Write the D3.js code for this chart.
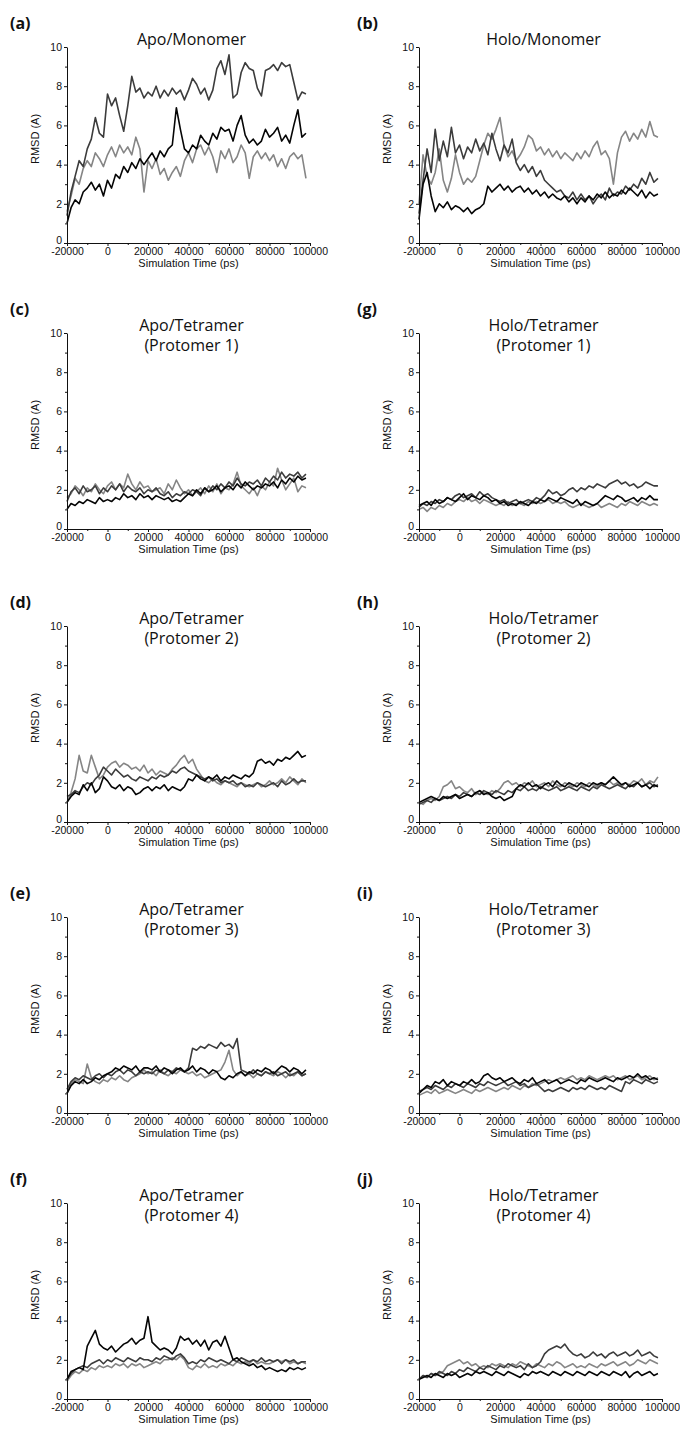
<!DOCTYPE html>
<html>
<head>
<meta charset="utf-8">
<script src="https://d3js.org/d3.v7.min.js"></script>
<style>
  body { margin: 0; background: #fff; }
</style>
</head>
<body>
<script>
var width = 680, height = 1432;

// sample times (ps)
var times = [-20000,-18000,-16000,-14000,-12000,-10000,-8000,-6000,-4000,-2000,
  0,2000,4000,6000,8000,10000,12000,14000,16000,18000,
  20000,22000,24000,26000,28000,30000,32000,34000,36000,38000,
  40000,42000,44000,46000,48000,50000,52000,54000,56000,58000,
  60000,62000,64000,66000,68000,70000,72000,74000,76000,78000,
  80000,82000,84000,86000,88000,90000,92000,94000,96000,98000];

var xTicks = [-20000, 0, 20000, 40000, 60000, 80000, 100000];
var xMinor = [-10000, 10000, 30000, 50000, 70000, 90000];
var yTicks = [0, 2, 4, 6, 8, 10];
var yMinor = [1, 3, 5, 7, 9];

// RMSD values: _k black, _d dark grey, _l light grey

// (a) Apo/Monomer
var apoMono_k = [1.0,1.8,2.2,2.0,2.6,2.8,3.1,2.7,3.0,2.4, 3.2,2.8,3.5,3.3,3.9,3.6,4.1,3.8,4.3,4.0,
  4.3,4.6,4.2,4.7,4.4,4.8,5.0,6.9,5.8,4.8, 4.6,5.0,4.8,5.5,5.2,5.0,5.6,5.3,5.9,5.7,
  5.8,5.2,6.0,6.5,5.5,5.1,5.3,5.0,5.2,5.8, 5.4,5.6,5.9,5.2,5.5,5.1,6.0,6.8,5.4,5.6];
var apoMono_d = [1.4,2.6,3.4,4.2,3.9,4.8,5.3,6.4,5.6,5.4, 7.6,7.0,7.4,6.5,5.7,7.0,8.5,7.7,7.9,7.4,
  7.7,7.5,8.0,7.4,7.8,7.5,7.9,7.6,7.8,7.3, 7.8,8.4,8.1,7.6,7.9,7.3,7.8,8.9,9.3,8.6,
  9.6,7.4,7.6,8.7,9.2,8.9,8.8,7.9,7.5,8.8, 8.9,9.1,8.8,9.2,9.0,9.1,8.2,7.3,7.7,7.6];
var apoMono_l = [1.6,2.4,3.3,3.0,3.8,4.2,3.9,4.6,4.3,3.9, 4.5,4.9,4.4,5.0,4.6,4.9,4.5,5.4,4.8,2.6,
  4.2,3.8,4.3,3.5,3.8,3.2,3.6,3.9,3.4,4.2, 4.6,4.1,4.8,5.0,4.5,4.9,4.4,3.6,4.7,4.3,
  4.8,4.1,4.4,5.0,4.6,3.3,4.4,4.7,4.3,4.6, 4.2,4.5,3.9,4.3,3.8,4.4,4.6,4.3,4.5,3.3];

// (b) Holo/Monomer
var holoMono_k = [1.2,3.0,3.6,2.4,1.6,2.0,1.8,2.1,1.7,1.9, 1.8,1.6,1.8,1.5,1.7,1.8,2.0,2.9,2.6,2.8,
  3.0,2.7,2.9,2.6,2.8,2.9,2.6,2.8,2.5,2.7, 2.4,2.6,2.3,2.5,2.3,2.2,2.4,2.1,2.3,2.0,
  2.3,2.1,2.4,2.2,2.5,2.3,2.6,2.3,2.5,2.4, 2.7,2.5,2.8,2.6,2.4,2.7,2.3,2.6,2.4,2.5];
var holoMono_d = [1.5,3.2,4.8,3.6,5.8,4.2,5.2,4.4,5.9,4.6, 5.0,4.3,4.9,4.6,5.3,4.7,5.1,4.5,5.6,4.8,
  4.2,5.0,4.6,5.3,4.1,3.7,4.0,3.6,3.9,3.4, 3.7,3.2,3.0,2.8,2.6,2.7,2.4,2.3,2.6,2.2,
  2.5,2.2,2.4,2.0,2.3,2.5,2.2,2.8,2.4,2.6, 2.5,2.9,2.7,3.0,2.8,3.3,3.0,3.6,3.1,3.3];
var holoMono_l = [2.0,4.5,3.4,3.0,3.6,4.8,3.2,2.6,3.3,4.5, 3.6,3.0,3.3,3.1,3.4,4.2,5.0,5.6,5.3,5.8,
  6.4,5.0,4.4,4.7,4.2,4.5,4.9,5.5,5.3,4.7, 4.9,4.5,4.8,4.4,4.7,4.3,4.6,4.4,4.2,4.6,
  4.3,4.7,4.4,4.9,5.2,4.5,4.7,4.3,3.0,4.6, 5.4,5.7,5.2,5.6,5.3,5.8,5.4,6.2,5.5,5.4];

// (c) Apo/Tetramer protomer 1
var apoP1_k = [1.0,1.3,1.2,1.4,1.3,1.5,1.4,1.3,1.6,1.4, 1.5,1.4,1.6,1.5,1.8,1.6,1.7,1.5,1.8,1.6,
  1.7,1.5,1.7,1.6,1.5,1.6,1.4,1.5,1.4,1.6, 1.8,1.7,2.0,1.8,2.1,1.9,2.0,2.2,1.9,2.1,
  2.2,2.0,2.3,2.1,2.4,2.2,2.0,2.2,2.1,2.3, 2.2,2.4,2.1,2.5,2.3,2.6,2.4,2.7,2.5,2.6];
var apoP1_d = [1.4,1.9,2.1,1.8,2.2,1.9,2.0,2.2,1.8,2.1, 1.9,2.2,2.0,2.3,1.9,2.2,2.0,1.9,2.1,1.8,
  2.0,1.9,2.1,1.8,1.7,1.9,1.6,1.8,1.7,1.9, 1.8,2.0,1.9,1.7,2.1,1.9,2.2,2.0,2.3,2.1,
  2.4,2.2,2.6,2.3,2.2,2.4,2.3,2.5,2.2,2.6, 2.4,2.7,2.5,2.9,2.6,2.8,2.7,2.9,2.6,2.8];
var apoP1_l = [1.6,1.8,2.2,2.0,1.7,2.1,1.9,2.3,2.0,1.8, 2.2,2.4,2.0,2.3,2.1,2.8,2.3,2.0,2.4,2.1,
  2.2,1.9,2.0,2.1,1.8,2.3,2.0,2.5,2.1,1.8, 2.0,1.7,1.9,2.1,1.8,2.2,1.9,2.3,1.8,2.1,
  2.0,2.3,2.9,2.2,2.0,1.8,2.1,1.7,2.2,2.0, 2.4,2.2,3.1,2.5,2.0,2.3,2.6,1.9,2.2,2.1];

// (g) Holo/Tetramer protomer 1
var holoP1_k = [1.2,1.3,1.4,1.2,1.5,1.3,1.4,1.6,1.5,1.4, 1.6,1.8,1.5,1.7,1.6,1.5,1.7,1.6,1.4,1.5,
  1.3,1.4,1.2,1.3,1.2,1.4,1.3,1.2,1.4,1.3, 1.5,1.4,1.6,1.5,1.4,1.6,1.5,1.4,1.3,1.5,
  1.2,1.4,1.3,1.2,1.3,1.5,1.7,1.6,1.5,1.7, 1.6,1.4,1.5,1.6,1.4,1.6,1.5,1.7,1.5,1.5];
var holoP1_d = [1.1,1.3,1.2,1.4,1.3,1.5,1.4,1.6,1.5,1.7, 1.8,1.6,1.7,1.8,1.6,1.9,1.7,1.8,1.6,1.5,
  1.4,1.5,1.3,1.4,1.5,1.3,1.4,1.5,1.4,1.6, 1.5,1.7,2.0,1.8,1.9,1.7,1.8,2.0,2.1,1.9,
  2.1,2.0,2.2,2.1,2.3,2.2,2.1,2.3,2.4,2.5, 2.3,2.4,2.2,2.3,2.1,2.2,2.4,2.3,2.2,2.2];
var holoP1_l = [1.0,1.1,0.9,1.1,1.0,1.2,1.1,1.3,1.2,1.4, 1.5,1.4,1.6,1.4,1.5,1.3,1.5,1.4,1.3,1.2,
  1.3,1.2,1.4,1.2,1.3,1.3,1.2,1.4,1.3,1.4, 1.3,1.4,1.5,1.3,1.4,1.3,1.4,1.2,1.1,1.2,
  1.3,1.2,1.1,1.2,1.3,1.1,1.2,1.3,1.2,1.1, 1.3,1.2,1.4,1.3,1.2,1.4,1.3,1.2,1.3,1.2];

// (d) Apo/Tetramer protomer 2
var apoP2_k = [1.0,1.3,1.5,1.4,1.9,1.6,2.0,1.5,1.7,2.3, 2.1,1.8,1.7,1.9,1.6,1.8,1.7,1.4,1.5,1.7,
  1.8,1.6,1.8,1.7,1.9,1.6,1.8,1.7,1.6,1.8, 2.2,2.1,2.4,2.2,2.1,2.3,2.2,2.4,2.1,2.3,
  2.2,2.4,2.3,2.2,2.4,2.3,2.5,3.1,3.2,3.0, 3.1,2.9,3.2,3.1,3.3,3.2,3.4,3.6,3.3,3.4];
var apoP2_d = [1.3,1.4,1.6,1.5,1.8,2.0,1.9,2.2,2.4,2.8, 2.6,2.4,2.7,2.5,2.3,2.4,2.2,2.1,2.3,2.2,
  2.1,2.3,2.2,2.4,2.3,2.4,2.6,2.5,2.7,2.8, 2.6,2.5,2.4,2.3,2.2,2.3,2.1,2.2,2.0,2.1,
  2.0,2.1,1.9,2.0,1.8,1.9,1.8,2.0,1.9,1.8, 1.9,2.0,1.8,2.1,1.9,2.0,2.2,2.0,2.1,2.1];
var apoP2_l = [1.0,1.5,2.2,3.4,2.6,2.5,3.4,2.8,2.2,2.4, 2.8,3.0,3.1,2.8,3.0,2.9,2.7,2.8,2.6,2.9,
  2.5,2.7,2.4,2.6,2.5,2.4,2.7,2.9,3.2,3.4, 3.0,3.2,2.7,2.4,2.1,2.0,2.2,2.0,1.9,2.1,
  2.0,1.9,1.8,2.0,1.9,1.8,1.9,2.0,1.8,1.9, 2.1,1.9,2.0,2.2,2.0,2.3,2.1,1.9,2.2,2.0];

// (h) Holo/Tetramer protomer 2
var holoP2_k = [1.0,1.1,1.2,1.3,1.2,1.1,1.3,1.2,1.3,1.4, 1.2,1.3,1.4,1.3,1.5,1.6,1.4,1.5,1.3,1.2,
  1.3,1.1,1.2,1.3,1.7,1.9,1.8,2.0,1.8,1.9, 1.7,1.9,2.0,1.8,2.1,1.9,1.8,2.0,1.9,1.8,
  2.0,1.9,1.8,2.0,1.9,2.0,1.9,2.1,2.3,2.1, 1.9,2.0,1.8,1.9,2.0,1.8,1.9,1.7,1.9,1.8];
var holoP2_d = [0.9,1.0,1.1,1.0,1.2,1.1,1.2,1.3,1.2,1.4, 1.3,1.5,1.4,1.3,1.5,1.4,1.6,1.5,1.4,1.6,
  1.5,1.4,1.6,1.5,1.7,1.6,1.8,1.6,1.7,1.6, 1.8,1.7,1.6,1.7,1.8,1.6,1.7,1.8,1.7,1.6,
  1.8,1.7,1.6,1.8,1.7,1.9,1.8,1.7,1.8,1.9, 1.8,1.7,1.9,1.8,2.0,1.8,1.9,2.0,1.8,1.9];
var holoP2_l = [1.0,0.9,1.1,1.2,1.1,1.3,1.8,1.9,2.1,1.7, 1.8,1.6,1.5,1.7,1.4,1.6,1.5,1.4,1.6,1.5,
  1.7,2.0,2.1,1.9,2.0,1.8,2.0,1.9,2.1,1.8, 1.9,2.0,1.8,2.1,1.9,1.8,2.0,1.9,1.8,2.0,
  1.9,1.8,2.0,1.9,1.8,2.0,1.9,2.1,1.9,2.0, 1.8,2.0,1.9,2.1,2.0,2.2,1.9,2.1,2.0,2.3];

// (e) Apo/Tetramer protomer 3
var apoP3_k = [1.0,1.4,1.6,1.5,1.7,1.5,1.6,1.8,1.7,1.9, 2.0,2.1,2.3,2.2,2.4,2.3,2.2,2.4,2.1,2.3,
  2.3,2.2,2.4,2.1,2.3,2.2,2.0,2.2,2.3,2.1, 2.2,2.4,2.1,2.3,2.2,2.0,2.2,2.1,1.8,1.7,
  1.9,1.8,2.0,2.1,1.9,2.1,2.0,2.2,2.1,2.3, 2.2,2.0,2.2,2.4,2.3,2.1,2.3,2.2,2.0,2.2];
var apoP3_d = [1.2,1.6,1.8,1.7,1.9,1.8,1.7,1.9,2.0,1.8, 2.0,1.9,2.1,2.2,2.0,2.2,2.1,1.9,2.1,2.0,
  2.1,2.0,2.2,2.1,2.0,2.2,2.1,2.3,2.2,2.1, 2.3,3.3,3.2,3.4,3.3,3.5,3.4,3.3,3.6,3.4,
  3.5,3.3,3.8,2.2,2.1,2.0,2.2,2.0,1.9,2.1, 2.0,2.1,1.9,2.0,2.1,1.9,2.0,2.1,1.9,2.0];
var apoP3_l = [1.0,1.5,1.7,1.6,1.5,2.5,1.8,1.6,1.5,1.7, 1.6,1.8,1.7,1.9,1.7,1.6,1.8,1.9,2.0,2.2,
  2.0,2.1,1.9,2.2,2.0,1.9,2.1,2.0,2.2,2.1, 2.0,2.1,1.9,2.0,1.8,1.9,2.0,2.1,2.2,2.6,
  3.2,2.2,1.9,2.1,1.9,2.0,1.8,2.0,1.9,2.1, 2.0,1.9,2.1,2.0,1.8,2.0,1.9,2.1,1.9,2.0];

// (i) Holo/Tetramer protomer 3
var holoP3_k = [1.0,1.2,1.4,1.3,1.6,1.5,1.7,1.4,1.6,1.5, 1.4,1.6,1.5,1.7,1.5,1.6,1.9,2.0,1.8,1.7,
  1.8,1.6,1.7,1.8,1.6,1.5,1.7,1.6,1.8,1.5, 1.6,1.7,1.5,1.6,1.7,1.5,1.6,1.7,1.6,1.5,
  1.7,1.6,1.8,1.7,1.6,1.7,1.8,1.7,1.6,1.8, 1.7,1.8,1.9,1.8,2.0,1.8,1.9,1.7,1.8,1.7];
var holoP3_d = [1.1,1.2,1.3,1.2,1.4,1.3,1.2,1.4,1.3,1.5, 1.4,1.3,1.5,1.4,1.3,1.5,1.4,1.6,1.5,1.4,
  1.5,1.6,1.4,1.5,1.6,1.4,1.5,1.3,1.4,1.5, 1.3,1.1,1.2,1.1,1.2,1.3,1.2,1.1,1.3,1.2,
  1.3,1.2,1.4,1.3,1.2,1.3,1.2,1.4,1.3,1.2, 1.1,1.6,1.5,1.7,1.6,1.5,1.7,1.6,1.5,1.6];
var holoP3_l = [0.9,1.0,1.1,1.0,1.2,1.0,1.1,1.2,1.1,1.0, 1.1,1.2,1.1,1.0,1.2,1.1,1.2,1.3,1.2,1.1,
  1.2,1.3,1.2,1.4,1.3,1.2,1.4,1.3,1.5,1.4, 1.5,1.6,1.7,1.6,1.7,1.8,1.7,1.8,1.9,1.7,
  1.8,1.7,1.9,1.8,1.7,1.8,1.9,1.8,1.9,1.7, 1.8,1.9,1.7,1.8,1.9,1.7,1.8,1.9,1.7,1.8];

// (f) Apo/Tetramer protomer 4
var apoP4_k = [1.0,1.4,1.5,1.6,1.5,2.7,3.1,3.5,2.8,2.6, 2.5,2.7,2.4,2.6,2.8,2.9,3.1,2.8,3.0,3.1,
  4.2,2.9,2.7,2.5,2.6,2.5,2.3,2.6,3.2,3.0, 3.1,2.8,3.0,2.7,3.0,2.5,2.9,3.0,2.7,3.2,
  2.6,2.0,2.1,1.9,1.8,1.7,1.8,1.6,1.7,1.5, 1.6,1.5,1.4,1.5,1.4,1.6,1.5,1.6,1.5,1.6];
var apoP4_d = [1.0,1.3,1.5,1.6,1.7,1.6,1.8,1.9,2.0,1.8, 2.0,1.9,2.1,2.0,1.9,2.1,2.0,1.9,2.1,2.0,
  2.0,1.9,2.1,2.0,2.2,2.1,2.0,2.2,2.3,2.1, 1.8,1.9,1.8,2.0,1.9,2.1,2.0,1.9,2.0,1.9,
  1.8,2.0,1.9,2.1,2.0,1.9,2.0,1.9,2.1,1.9, 2.0,1.9,2.0,1.8,2.0,1.9,2.0,1.8,1.9,1.9];
var apoP4_l = [0.9,1.2,1.4,1.3,1.5,1.4,1.6,1.5,1.7,1.6, 1.7,1.6,1.8,1.7,1.8,1.6,1.8,1.7,1.8,1.6,
  1.7,1.8,1.9,1.8,2.0,2.0,2.1,2.0,2.2,2.0, 1.6,1.5,1.7,1.6,1.8,1.6,1.7,1.6,1.8,1.7,
  1.8,1.7,1.9,1.8,1.9,1.8,2.0,1.8,1.9,1.8, 1.8,1.9,2.0,1.9,2.0,1.8,1.9,1.8,1.9,1.8];

// (j) Holo/Tetramer protomer 4
var holoP4_k = [1.0,1.1,1.2,1.1,1.3,1.2,1.1,1.3,1.2,1.3, 1.1,1.2,1.3,1.2,1.4,1.3,1.4,1.3,1.2,1.4,
  1.3,1.2,1.4,1.3,1.2,1.1,1.3,1.2,1.4,1.3, 1.4,1.3,1.2,1.4,1.3,1.2,1.4,1.3,1.2,1.4,
  1.3,1.2,1.4,1.3,1.2,1.4,1.3,1.2,1.4,1.3, 1.2,1.4,1.1,1.3,1.4,1.2,1.3,1.4,1.2,1.3];
var holoP4_d = [1.0,1.2,1.1,1.3,1.2,1.4,1.3,1.2,1.4,1.3, 1.5,1.4,1.6,1.5,1.4,1.6,1.5,1.7,1.6,1.5,
  1.7,1.6,1.8,1.7,1.6,1.7,1.5,1.8,1.6,1.7, 1.9,2.3,2.5,2.6,2.7,2.6,2.8,2.5,2.3,2.2,
  2.3,2.1,2.2,2.4,2.2,2.3,2.1,2.3,2.4,2.2, 2.3,2.4,2.2,2.3,2.5,2.2,2.3,2.4,2.2,2.1];
var holoP4_l = [1.0,1.2,1.1,1.3,1.2,1.3,1.4,1.7,1.8,1.9, 2.0,1.8,1.9,1.7,1.8,1.6,1.7,1.6,1.8,1.7,
  1.8,1.7,1.6,1.8,1.7,1.9,1.8,1.7,1.6,1.8, 1.7,1.6,1.8,1.7,1.9,1.8,1.6,1.7,1.8,1.6,
  1.7,1.6,1.8,1.7,1.6,1.8,1.7,1.8,1.9,1.7, 1.8,1.9,1.7,1.8,2.0,1.9,1.8,2.0,1.9,1.8];

// panel grid
var panels = [
  { tag: '(a)', title: ['Apo/Monomer'], col: 0, row: 0, series: [apoMono_l, apoMono_d, apoMono_k] },
  { tag: '(b)', title: ['Holo/Monomer'], col: 1, row: 0, series: [holoMono_l, holoMono_d, holoMono_k] },
  { tag: '(c)', title: ['Apo/Tetramer', '(Protomer 1)'], col: 0, row: 1, series: [apoP1_l, apoP1_d, apoP1_k] },
  { tag: '(g)', title: ['Holo/Tetramer', '(Protomer 1)'], col: 1, row: 1, series: [holoP1_l, holoP1_d, holoP1_k] },
  { tag: '(d)', title: ['Apo/Tetramer', '(Protomer 2)'], col: 0, row: 2, series: [apoP2_l, apoP2_d, apoP2_k] },
  { tag: '(h)', title: ['Holo/Tetramer', '(Protomer 2)'], col: 1, row: 2, series: [holoP2_l, holoP2_d, holoP2_k] },
  { tag: '(e)', title: ['Apo/Tetramer', '(Protomer 3)'], col: 0, row: 3, series: [apoP3_l, apoP3_d, apoP3_k] },
  { tag: '(i)', title: ['Holo/Tetramer', '(Protomer 3)'], col: 1, row: 3, series: [holoP3_l, holoP3_d, holoP3_k] },
  { tag: '(f)', title: ['Apo/Tetramer', '(Protomer 4)'], col: 0, row: 4, series: [apoP4_l, apoP4_d, apoP4_k] },
  { tag: '(j)', title: ['Holo/Tetramer', '(Protomer 4)'], col: 1, row: 4, series: [holoP4_l, holoP4_d, holoP4_k] }
];

var colours = ['#858585', '#3c3c3c', '#050505'];

var colLeft = [67, 419],
    rowTop = [47, 333, 626, 917, 1203],
    plotW = 243,
    plotH = 196;

var svg = d3.select('body')
  .append('svg')
  .attr('width', width)
  .attr('height', height)
  .style('display', 'block');

svg.append('rect').attr('width', width).attr('height', height).attr('fill', '#fff');

panels.forEach(function(p) {
  var left = colLeft[p.col], top = rowTop[p.row];

  var x = d3.scaleLinear().domain([-20000, 100000]).range([left, left + plotW]);
  var y = d3.scaleLinear().domain([0, 10]).range([top + plotH, top]);

  var g = svg.append('g');

  // traces
  var line = d3.line()
    .x(function(d, i) { return x(times[i]); })
    .y(function(d) { return y(d); });

  p.series.forEach(function(s, k) {
    g.append('path')
      .datum(s)
      .attr('d', line)
      .attr('fill', 'none')
      .attr('stroke', colours[k])
      .attr('stroke-width', 1.6)
      .attr('stroke-linejoin', 'round');
  });

  // axes
  g.append('g')
    .attr('transform', 'translate(0,' + (top + plotH) + ')')
    .call(d3.axisBottom(x).tickValues(xTicks).tickSize(3).tickSizeOuter(0).tickPadding(1.5)
      .tickFormat(function(d) { return String(d); }));
  g.append('g')
    .attr('transform', 'translate(0,' + (top + plotH) + ')')
    .call(d3.axisBottom(x).tickValues(xMinor).tickSize(2).tickFormat(''))
    .select('.domain').remove();

  var yAxis = g.append('g')
    .attr('transform', 'translate(' + left + ',0)')
    .call(d3.axisLeft(y).tickValues(yTicks).tickSize(3).tickSizeOuter(0).tickPadding(2));
  // lift the "0" a little so it clears the first x label
  yAxis.selectAll('.tick text').filter(function(d) { return d === 0; })
    .attr('y', -3);
  g.append('g')
    .attr('transform', 'translate(' + left + ',0)')
    .call(d3.axisLeft(y).tickValues(yMinor).tickSize(2).tickFormat(''))
    .select('.domain').remove();

  g.selectAll('.tick text')
    .attr('font-family', '"Liberation Sans", Arial, sans-serif')
    .attr('font-size', 10.5)
    .attr('fill', '#111');
  g.selectAll('.domain, .tick line').attr('stroke', '#111');

  // axis titles
  g.append('text')
    .attr('x', left + plotW / 2)
    .attr('y', top + plotH + 24)
    .attr('text-anchor', 'middle')
    .attr('font-family', '"Liberation Sans", Arial, sans-serif')
    .attr('font-size', 11)
    .attr('fill', '#111')
    .text('Simulation Time (ps)');

  g.append('text')
    .attr('transform', 'translate(' + (left - 28) + ',' + (top + plotH / 2 - 6) + ') rotate(-90)')
    .attr('text-anchor', 'middle')
    .attr('font-family', '"Liberation Sans", Arial, sans-serif')
    .attr('font-size', 11)
    .attr('fill', '#111')
    .text('RMSD (A)');

  // panel title
  p.title.forEach(function(t, j) {
    g.append('text')
      .attr('x', left + plotW / 2 + 3)
      .attr('y', top - 2 + j * 20)
      .attr('text-anchor', 'middle')
      .attr('font-family', '"Open Sans", sans-serif')
      .attr('font-size', 16)
      .attr('fill', '#111')
      .text(t);
  });

  // panel letter
  g.append('text')
    .attr('x', p.col === 0 ? 10 : 357)
    .attr('y', top - 18)
    .attr('font-family', '"Open Sans", sans-serif')
    .attr('font-weight', 'bold')
    .attr('font-size', 16)
    .attr('fill', '#111')
    .text(p.tag);
});
</script>
</body>
</html>
